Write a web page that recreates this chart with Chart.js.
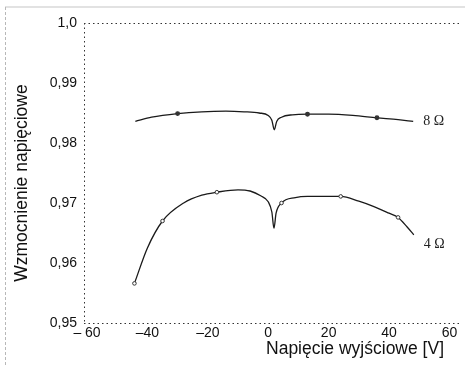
<!DOCTYPE html>
<html>
<head>
<meta charset="utf-8">
<script src="https://cdn.jsdelivr.net/npm/chart.js@4.4.1/dist/chart.umd.min.js"></script>
<style>
  html, body { margin: 0; padding: 0; background: #fff; overflow: hidden; }
  #gain { display: block; }
</style>
</head>
<body>
<canvas id="gain" width="465" height="366"></canvas>
<script>
// output voltage [V] / voltage gain, 8 ohm load
const volts8 = [-44, -38.6, -30, -22, -14, -8, -3, 0, 1.2, 2.0, 2.8, 4.4, 8, 13, 20, 28, 36, 43, 48];
const gain8  = [0.9836, 0.9843, 0.9849, 0.9852, 0.9853, 0.9852, 0.9850, 0.9846, 0.9838, 0.9822, 0.9836,
                0.9843, 0.9847, 0.9848, 0.9848, 0.9846, 0.9842, 0.9839, 0.9836];
const marks8 = [-30, 13, 36];

// 4 ohm load
const volts4 = [-44.3, -40, -35, -28, -22, -17, -10, -6, -2.5, 0, 1.2, 1.9, 2.6, 4.4, 9, 13, 24, 30, 35, 40, 43, 46, 48.2];
const gain4  = [0.9566, 0.9625, 0.9670, 0.9700, 0.9713, 0.9718, 0.9722, 0.9720, 0.9712, 0.9702, 0.9685, 0.9658,
                0.9683, 0.9700, 0.9709, 0.9711, 0.9711, 0.9703, 0.9694, 0.9683, 0.9676, 0.9660, 0.9647];
const marks4 = [-44.3, -35, -17, 4.4, 24, 43];

const seriesNames = ['8 Ω', '4 Ω'];
const xTicks = [-60, -40, -20, 0, 20, 40, 60];
const xTickLabels = ['– 60', '–40', '–20', '0', '20', '40', '60'];
const yTicks = [0.95, 0.96, 0.97, 0.98, 0.99, 1.0];
const yTickLabels = ['0,95', '0,96', '0,97', '0,98', '0,99', '1,0'];
const xTitle = 'Napięcie wyjściowe [V]';
const yTitle = 'Wzmocnienie napięciowe';

const toPoints = (xs, ys) => xs.map((x, i) => ({ x: x, y: ys[i] }));
const markRadius = marks => ctx => marks.includes(ctx.raw.x) ? 1.8 : 0;

// dotted frame: left, top and bottom edges of the plot area, plus the faint page edge
const dottedFrame = {
  id: 'dottedFrame',
  beforeDatasetsDraw(chart) {
    const { left, right, top, bottom } = chart.chartArea;
    const c = chart.ctx;
    c.save();
    c.strokeStyle = '#e2e2e2';
    c.lineWidth = 2;
    c.beginPath();
    c.moveTo(5, 7);
    c.lineTo(chart.width, 7);
    c.stroke();
    c.strokeStyle = '#b8b8b8';
    c.lineWidth = 1;
    c.setLineDash([3, 2]);
    c.beginPath();
    c.moveTo(5.5, 7);
    c.lineTo(5.5, chart.height);
    c.stroke();
    c.strokeStyle = '#333';
    c.setLineDash([1.5, 3]);
    c.beginPath();
    c.moveTo(left + 0.5, top);
    c.lineTo(left + 0.5, bottom);
    c.moveTo(left, top + 0.5);
    c.lineTo(right, top + 0.5);
    c.moveTo(left, bottom + 0.5);
    c.lineTo(right, bottom + 0.5);
    c.stroke();
    c.restore();
  }
};

const seriesLabels = {
  id: 'seriesLabels',
  afterDatasetsDraw(chart) {
    const c = chart.ctx;
    c.save();
    c.font = '14px "Liberation Serif", serif';
    c.fillStyle = '#222';
    c.textBaseline = 'middle';
    chart.data.datasets.forEach((ds, i) => {
      const pts = chart.getDatasetMeta(i).data;
      const last = pts[pts.length - 1];
      c.fillText(seriesNames[i], last.x + 10, last.y + (i === 0 ? 0 : 10));
    });
    c.restore();
  }
};

const axisTitles = {
  id: 'axisTitles',
  afterDraw(chart) {
    const c = chart.ctx;
    c.save();
    c.font = '17.5px "Liberation Sans", Arial, sans-serif';
    c.fillStyle = '#111';
    c.textAlign = 'center';
    c.textBaseline = 'middle';
    c.fillText(xTitle, 355, 349);
    c.translate(22, 183);
    c.rotate(-Math.PI / 2);
    c.fillText(yTitle, 0, 0);
    c.restore();
  }
};

new Chart(document.getElementById('gain'), {
  type: 'line',
  data: {
    datasets: [
      {
        label: seriesNames[0],
        data: toPoints(volts8, gain8),
        borderColor: '#1a1a1a',
        borderWidth: 1.3,
        pointRadius: markRadius(marks8),
        pointBackgroundColor: '#333',
        pointBorderColor: '#333',
        cubicInterpolationMode: 'monotone'
      },
      {
        label: seriesNames[1],
        data: toPoints(volts4, gain4),
        borderColor: '#1a1a1a',
        borderWidth: 1.3,
        pointRadius: markRadius(marks4),
        pointBackgroundColor: '#fff',
        pointBorderColor: '#333',
        pointBorderWidth: 1,
        cubicInterpolationMode: 'monotone'
      }
    ]
  },
  options: {
    responsive: false,
    animation: false,
    layout: { padding: { top: 23, right: 0, bottom: 0, left: 0 } },
    plugins: { legend: { display: false }, tooltip: { enabled: false } },
    scales: {
      x: {
        type: 'linear',
        min: -61,
        max: 63.5,
        afterBuildTicks: s => { s.ticks = xTicks.map(v => ({ value: v })); },
        afterFit: s => { s.height = 43; },
        grid: { display: false, drawTicks: false, tickLength: 0 },
        border: { display: false },
        ticks: {
          color: '#111',
          padding: 2,
          font: { family: '"Liberation Sans", Arial, sans-serif', size: 14 },
          callback: v => xTickLabels[xTicks.indexOf(v)]
        }
      },
      y: {
        min: 0.95,
        max: 1.0,
        afterBuildTicks: s => { s.ticks = yTicks.map(v => ({ value: v })); },
        afterFit: s => { s.width = 84; },
        grid: { display: false, drawTicks: false, tickLength: 0 },
        border: { display: false },
        ticks: {
          color: '#111',
          padding: 7,
          font: { family: '"Liberation Sans", Arial, sans-serif', size: 14 },
          callback: v => yTickLabels[yTicks.findIndex(t => Math.abs(t - v) < 1e-6)]
        }
      }
    }
  },
  plugins: [dottedFrame, seriesLabels, axisTitles]
});
</script>
</body>
</html>
